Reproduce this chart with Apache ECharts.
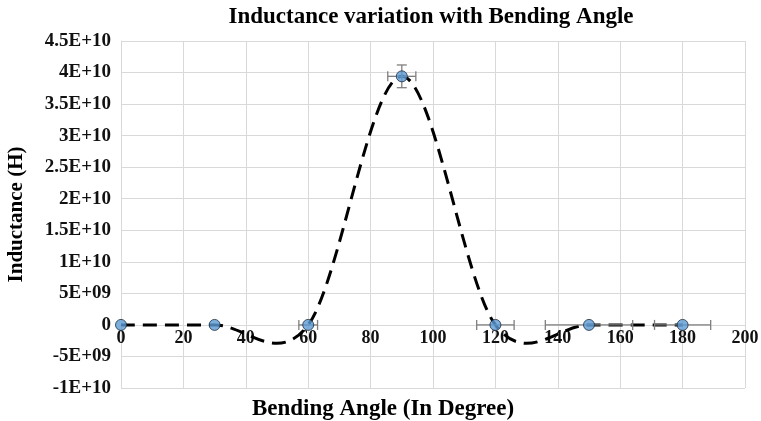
<!DOCTYPE html>
<html>
<head>
<meta charset="utf-8">
<script src="https://cdn.jsdelivr.net/npm/echarts@6/dist/echarts.min.js"></script>
<style>
  html, body { margin: 0; padding: 0; background: #fff; }
  #main { width: 761px; height: 421px; }
</style>
</head>
<body>
<div id="main"></div>
<script>
// bending angle (degree) and measured inductance (H)
var angles = [0, 30, 60, 90, 120, 150, 180];
var inductance = [0, 0, 0, 3.94e10, 0, 0, 0];
// error bar half widths
var angleErr = [0, 0, 3, 4.5, 6, 14, 9];
var inductanceErr = [0, 0, 0, 1.8e9, 0, 0, 0];

var xTicks = [0, 20, 40, 60, 80, 100, 120, 140, 160, 180, 200];
var yTickLabels = ['-1E+10', '-5E+09', '0', '5E+09', '1E+10', '1.5E+10', '2E+10',
                   '2.5E+10', '3E+10', '3.5E+10', '4E+10', '4.5E+10'];
var yMin = -1e10, yMax = 4.5e10, yStep = 5e9;

var FONT = 'Liberation Serif';
var gridColor = '#d9d9d9';
var errColor = '#7f7f7f';

var W = 761, H = 421;
var gridTop = 41, gridBottom = 33;
// x轴标签放在 y=0 处
var xAxisOffset = -(0 - yMin) / (yMax - yMin) * (H - gridTop - gridBottom);

var chart = echarts.init(document.getElementById('main'));

// 平滑曲线（类似 Excel 的平滑线），控制点取相邻点差的 1/6
function renderCurve(params, api) {
	if (params.dataIndex !== 0) return null;
	var pts = angles.map(function (a, i) { return api.coord([a, inductance[i]]); });
	var n = pts.length;
	var d = 'M' + pts[0][0] + ',' + pts[0][1];
	for (var i = 0; i < n - 1; i++) {
		var p0 = pts[Math.max(i - 1, 0)], p1 = pts[i], p2 = pts[i + 1], p3 = pts[Math.min(i + 2, n - 1)];
		var c1x = p1[0] + (p2[0] - p0[0]) / 6, c1y = p1[1] + (p2[1] - p0[1]) / 6;
		var c2x = p2[0] - (p3[0] - p1[0]) / 6, c2y = p2[1] - (p3[1] - p1[1]) / 6;
		d += 'C' + c1x + ',' + c1y + ',' + c2x + ',' + c2y + ',' + p2[0] + ',' + p2[1];
	}
	return {
		type: 'path',
		shape: { pathData: d },
		style: { fill: null, stroke: '#000', lineWidth: 3, lineDash: [14, 8] }
	};
}

// 误差线：x方向和y方向，两端带短横
function renderErr(params, api) {
	var x = api.value(0), y = api.value(1);
	var ex = api.value(2), ey = api.value(3);
	var cap = 5;
	var style = { stroke: errColor, lineWidth: 1.3 };
	var children = [];
	if (ex > 0) {
		var l = api.coord([x - ex, y]), r = api.coord([x + ex, y]);
		children.push({ type: 'line', shape: { x1: l[0], y1: l[1], x2: r[0], y2: r[1] }, style: style });
		children.push({ type: 'line', shape: { x1: l[0], y1: l[1] - cap, x2: l[0], y2: l[1] + cap }, style: style });
		children.push({ type: 'line', shape: { x1: r[0], y1: r[1] - cap, x2: r[0], y2: r[1] + cap }, style: style });
	}
	if (ey > 0) {
		var t = api.coord([x, y + ey]), b = api.coord([x, y - ey]);
		children.push({ type: 'line', shape: { x1: t[0], y1: t[1], x2: b[0], y2: b[1] }, style: style });
		children.push({ type: 'line', shape: { x1: t[0] - cap, y1: t[1], x2: t[0] + cap, y2: t[1] }, style: style });
		children.push({ type: 'line', shape: { x1: b[0] - cap, y1: b[1], x2: b[0] + cap, y2: b[1] }, style: style });
	}
	return { type: 'group', children: children };
}

var pointData = angles.map(function (a, i) { return [a, inductance[i]]; });
var errData = angles.map(function (a, i) { return [a, inductance[i], angleErr[i], inductanceErr[i]]; });

var option = {
	backgroundColor: '#fff',
	animation: false,
	grid: { left: 121, right: 16, top: gridTop, bottom: gridBottom, containLabel: false, outerBoundsMode: 'none' },
	graphic: [
		{
			type: 'text', x: 431, y: 6,
			style: { text: 'Inductance variation with Bending Angle', font: 'bold 23px "' + FONT + '"', fill: '#000', align: 'center' }
		},
		{
			type: 'text', x: 383, y: 398,
			style: { text: 'Bending Angle (In Degree)', font: 'bold 23px "' + FONT + '"', fill: '#000', align: 'center' }
		}
	],
	xAxis: {
		type: 'value',
		min: 0, max: 200, interval: 20,
		offset: xAxisOffset,
		axisLine: { show: true, onZero: false, lineStyle: { color: gridColor, width: 1 } },
		axisTick: { show: false },
		axisLabel: {
			margin: 4,
			fontFamily: FONT, fontWeight: 'bold', fontSize: 18, color: '#111',
			formatter: function (v) { return xTicks.indexOf(v) >= 0 ? String(v) : ''; }
		},
		splitLine: { show: true, lineStyle: { color: gridColor, width: 1 } }
	},
	yAxis: {
		type: 'value',
		min: yMin, max: yMax, interval: yStep,
		name: 'Inductance (H)',
		nameLocation: 'middle',
		nameRotate: 90,
		nameGap: 94,
		nameTextStyle: { fontFamily: FONT, fontWeight: 'bold', fontSize: 21, color: '#000' },
		axisLine: { show: true, onZero: false, lineStyle: { color: gridColor, width: 1 } },
		axisTick: { show: false },
		axisLabel: {
			margin: 10,
			fontFamily: FONT, fontWeight: 'bold', fontSize: 19, color: '#111',
			formatter: function (v) { return yTickLabels[Math.round((v - yMin) / yStep)]; }
		},
		splitLine: { show: true, lineStyle: { color: gridColor, width: 1 } }
	},
	series: [
		{
			type: 'custom',
			renderItem: renderCurve,
			data: pointData,
			z: 2
		},
		{
			type: 'custom',
			renderItem: renderErr,
			data: errData,
			z: 3
		},
		{
			type: 'scatter',
			data: pointData,
			symbol: 'circle',
			symbolSize: 11,
			z: 4,
			itemStyle: { color: '#5b9bd5', borderColor: '#1f2d3d', borderWidth: 1 }
		}
	]
};

chart.setOption(option);
</script>
</body>
</html>
